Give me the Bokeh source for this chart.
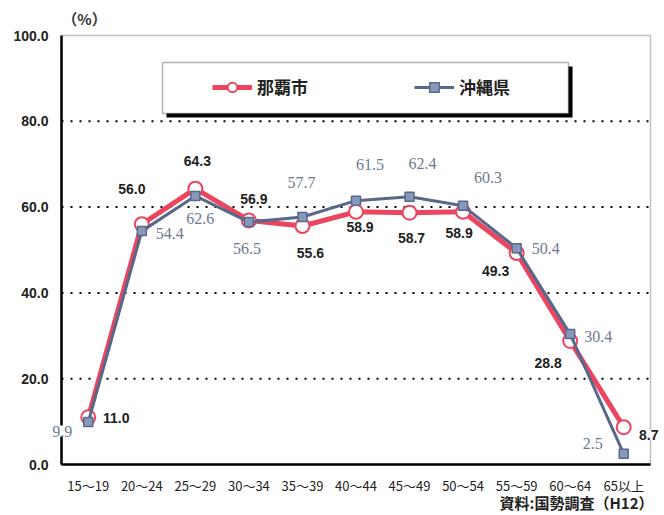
from bokeh.plotting import figure
from bokeh.models import (ColumnDataSource, Range1d, LabelSet, Label,
                          Legend, LegendItem, BoxAnnotation, FixedTicker,
                          NumeralTickFormatter)
from bokeh.core.properties import value
from bokeh.embed import file_html
from bokeh.resources import INLINE

# ---------------- data ----------------
categories = ["15～19", "20～24", "25～29", "30～34", "35～39", "40～44",
              "45～49", "50～54", "55～59", "60～64", "65以上"]
naha = [11.0, 56.0, 64.3, 56.9, 55.6, 58.9, 58.7, 58.9, 49.3, 28.8, 8.7]
okinawa = [9.9, 54.4, 62.6, 56.5, 57.7, 61.5, 62.4, 60.3, 50.4, 30.4, 2.5]
series_names = ["那覇市", "沖縄県"]
y_ticks = [0, 20, 40, 60, 80, 100]
unit_label = "（%）"
source_note = "資料:国勢調査（H12）"

# ---------------- label layout (screen pixel offsets, right / up) ----------------
naha_dx = [28, -10, 2, 5, 8, 4, 2, -4, -21, -22, 25]
naha_dy = [-1, 35, 28, 21, -27, -15, -25, -21, -18, -22, -8]
naha_bg = [None] * 10 + ["white"]
oki_dx = [-26, 28, 5, -2, -1, 14, 13, 25, 29, 28, -31]
oki_dy = [-9, -2, -23, -26, 34, 36, 33, 28, 0, -2, 10]
oki_bg = ["white"] + [None] * 10

RED = "#ec4560"
BLUE = "#58688a"
BLUE_FILL = "#8898bb"

xs = list(range(len(categories)))
x_lo, x_hi = -0.5, len(categories) - 0.5
y_lo, y_hi = y_ticks[0], y_ticks[-1]

src = ColumnDataSource(dict(
    x=xs, naha=naha, okinawa=okinawa,
    naha_text=[f"{v:.1f}" for v in naha],
    oki_text=[f"{v:.1f}" for v in okinawa],
    naha_dx=naha_dx, naha_dy=naha_dy, naha_bg=naha_bg,
    oki_dx=oki_dx, oki_dy=oki_dy, oki_bg=oki_bg,
))

# frame covers the whole canvas; the chart box sits at px 61..650 x 35..464
px_per_x = 589 / len(categories)
px_per_y = 429 / (y_hi - y_lo)
p = figure(width=664, height=515,
           x_range=Range1d(x_lo - 61 / px_per_x, x_hi + 14 / px_per_x),
           y_range=Range1d(y_lo - 51 / px_per_y, y_hi + 35 / px_per_y),
           output_backend="svg", toolbar_location=None,
           min_border=0, min_border_left=0, min_border_right=0,
           min_border_top=0, min_border_bottom=0,
           background_fill_color="white", border_fill_color="white")
p.outline_line_color = None
p.xgrid.visible = False
p.ygrid.visible = False

# chart box (top / right edges)
p.add_layout(BoxAnnotation(left=x_lo, right=x_hi, bottom=y_lo, top=y_hi,
                           fill_alpha=0, line_color="#333333", line_width=1.5,
                           level="underlay"))

# axes
xa = p.xaxis[0]
ya = p.yaxis[0]
xa.fixed_location = y_lo
ya.fixed_location = x_lo
xa.bounds = (x_lo, x_hi)
ya.bounds = (y_lo, y_hi)
for ax in (xa, ya):
    ax.axis_line_color = "black"
    ax.axis_line_width = 2.5
    ax.major_tick_line_color = None
    ax.minor_tick_line_color = None
    ax.major_tick_out = 0
    ax.major_tick_in = 0
    ax.major_label_text_color = "#222222"
ya.axis_line_color = None  # left edge drawn below the labels instead

ya.ticker = FixedTicker(ticks=y_ticks)
ya.formatter = NumeralTickFormatter(format="0.0")
ya.major_label_text_font = "Liberation Sans"
ya.major_label_text_font_size = "14px"
ya.major_label_text_font_style = "bold"
ya.major_label_standoff = 13

xa.ticker = FixedTicker(ticks=xs)
xa.major_label_overrides = {i: c for i, c in zip(xs, categories)}
xa.major_label_text_font = "Noto Sans CJK JP"
xa.major_label_text_font_size = "13px"
xa.major_label_standoff = 11

# left edge of chart box
p.segment(x0=[x_lo], x1=[x_lo], y0=[y_lo], y1=[y_hi],
          line_color="black", line_width=2.5)

# dotted grid lines
grid_y = y_ticks[1:-1]
p.segment(x0=[x_lo] * len(grid_y), x1=[x_hi] * len(grid_y), y0=grid_y, y1=grid_y,
          line_color="black", line_width=2, line_dash="2 7")

# series
r_line = p.line(x="x", y="naha", source=src, line_color=RED, line_width=5)
r_mark = p.scatter(x="x", y="naha", source=src, marker="circle", size=14,
                   fill_color="white", line_color=RED, line_width=2)
b_line = p.line(x="x", y="okinawa", source=src, line_color=BLUE, line_width=3)
b_mark = p.scatter(x="x", y="okinawa", source=src, marker="square", size=9,
                   fill_color=BLUE_FILL, line_color=BLUE, line_width=1.5)

# value labels
p.add_layout(LabelSet(x="x", y="naha", text="naha_text", source=src,
                      x_offset="naha_dx", y_offset="naha_dy",
                      text_align="center", text_baseline="middle",
                      text_font=value("Liberation Sans"), text_font_style="bold",
                      text_font_size="14px", text_color="#222222",
                      background_fill_color="naha_bg", level="overlay"))
p.add_layout(LabelSet(x="x", y="okinawa", text="oki_text", source=src,
                      x_offset="oki_dx", y_offset="oki_dy",
                      text_align="center", text_baseline="middle",
                      text_font=value("Liberation Serif"),
                      text_font_size="16px", text_color="#6d7a90",
                      background_fill_color="oki_bg", level="overlay"))

# legend box with shadow
p.add_layout(BoxAnnotation(left=1.461, right=9.044, top=92.8, bottom=80.9,
                           fill_color="black", fill_alpha=1, line_color=None,
                           level="annotation"))
p.add_layout(BoxAnnotation(left=1.386, right=8.969, top=93.7, bottom=81.8,
                           fill_color="white", fill_alpha=1, line_color="black",
                           line_width=1.5, level="annotation"))

legend = Legend(items=[LegendItem(label=series_names[0], renderers=[r_line, r_mark]),
                       LegendItem(label=series_names[1], renderers=[b_line, b_mark])],
                orientation="horizontal", location=(212, 416),
                glyph_width=40, glyph_height=24, label_standoff=5, spacing=106,
                padding=0, margin=0, background_fill_alpha=0,
                border_line_color=None,
                label_text_font="Noto Sans CJK JP", label_text_font_size="17px",
                label_text_font_style="bold", label_text_color="#222222")
p.add_layout(legend)

# unit and source notes
p.add_layout(Label(x=-0.07, y=104.0, text=unit_label, text_align="center",
                   text_baseline="middle", text_font="Noto Sans CJK JP",
                   text_font_size="15px", text_font_style="bold",
                   text_color="#333333"))
p.add_layout(Label(x=10.556, y=-8.86, text=source_note, text_align="right",
                   text_baseline="middle", text_font="Noto Sans CJK JP",
                   text_font_size="15px", text_font_style="bold",
                   text_color="#222222"))

open("out.html", "w").write(file_html(p, INLINE))
